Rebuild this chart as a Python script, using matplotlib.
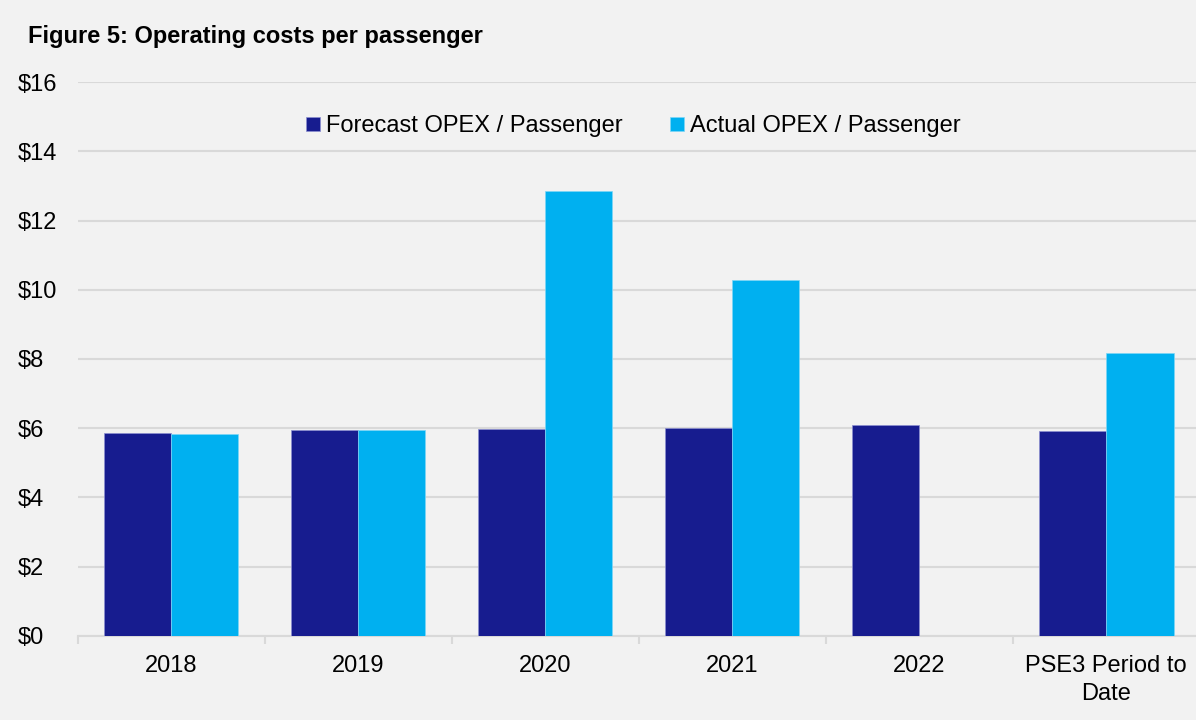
import numpy as np
import matplotlib.pyplot as plt
from matplotlib.ticker import FuncFormatter, FixedLocator

# Operating costs per passenger ($)
categories = ['2018', '2019', '2020', '2021', '2022', 'PSE3 Period to\nDate']
forecast = [5.85, 5.95, 5.99, 6.02, 6.08, 5.92]
actual = [5.84, 5.96, 12.84, 10.29, np.nan, 8.18]

plt.rcParams['font.family'] = ['Liberation Sans', 'DejaVu Sans']

bg = '#f2f2f2'
grid_col = '#d9d9d9'
navy = '#171c8f'
cyan = '#00b0f0'

fig = plt.figure(figsize=(11.96, 7.2), dpi=100, facecolor=bg)
ax = fig.add_axes([0.0648, 0.1167, 0.9352, 0.7694], facecolor=bg)

x = np.arange(len(categories))
w = 0.36
ax.bar(x - w / 2, forecast, w, color=navy, edgecolor='#8c8fd0', linewidth=0.5,
       label='Forecast OPEX / Passenger', zorder=3)
ax.bar(x + w / 2, actual, w, color=cyan, edgecolor='#7fd7f7', linewidth=0.5,
       label='Actual OPEX / Passenger', zorder=3)

ax.set_ylim(0, 16)
ax.set_yticks(np.arange(0, 17, 2))
ax.yaxis.set_major_formatter(FuncFormatter(lambda v, p: f'${v:.0f}'))
ax.set_xlim(-0.5, 5.48)
ax.set_xticks(x)
ax.set_xticklabels(categories)
ax.xaxis.set_minor_locator(FixedLocator(np.arange(-0.5, 6, 1)))

ax.grid(axis='y', color=grid_col, linewidth=1.5, zorder=0)
for s in ['top', 'right', 'left']:
    ax.spines[s].set_visible(False)
ax.spines['bottom'].set_color(grid_col)
ax.spines['bottom'].set_linewidth(1.5)

ax.tick_params(axis='y', length=0, labelsize=17, pad=43)
ax.tick_params(axis='x', which='major', length=0, labelsize=17, pad=14)
ax.tick_params(axis='x', which='minor', length=6, width=1.5, color=grid_col)
for lbl in ax.get_yticklabels():
    lbl.set_horizontalalignment('left')
for lbl in ax.get_xticklabels():
    lbl.set_linespacing(1.3)

ax.legend(loc='center', bbox_to_anchor=(0.497, 0.92), ncol=2, frameon=False,
          fontsize=17, handlelength=0.6, handleheight=0.6, handletextpad=0.25,
          columnspacing=2.0)

fig.text(0.0234, 0.95, 'Figure 5: Operating costs per passenger', fontsize=17,
         fontweight='bold', va='center', ha='left')

fig.savefig('out.png', dpi=100, facecolor=bg)
